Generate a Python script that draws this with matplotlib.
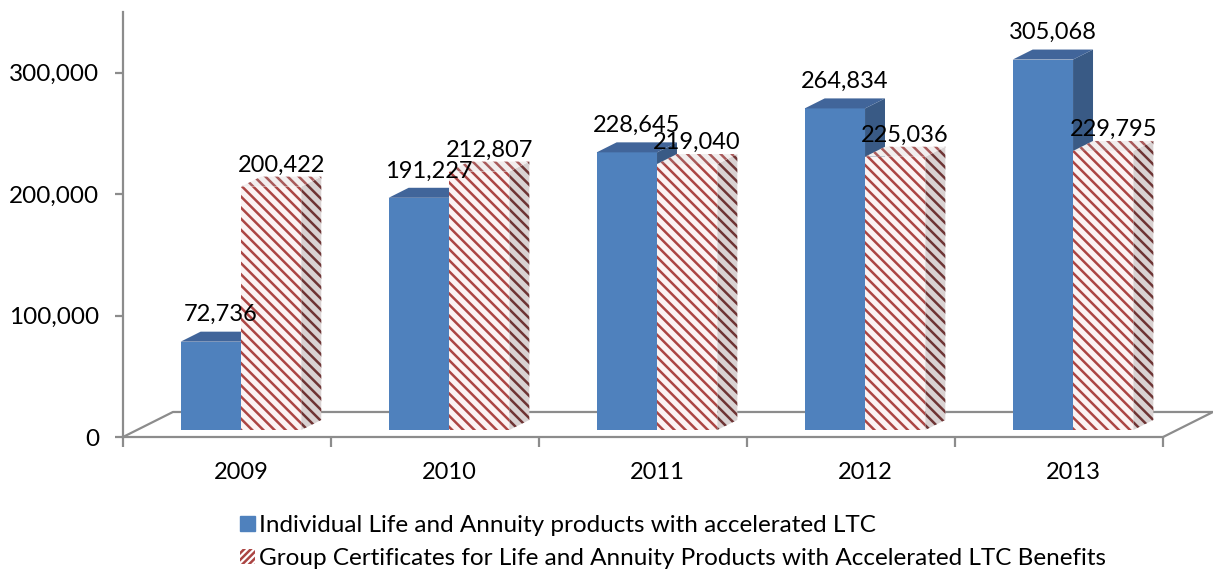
import matplotlib.pyplot as plt
from matplotlib.patches import Polygon, Patch
from matplotlib.ticker import FuncFormatter

years = ["2009", "2010", "2011", "2012", "2013"]
individual = [72736, 191227, 228645, 264834, 305068]
group = [200422, 212807, 219040, 225036, 229795]
names = ["Individual Life and Annuity products with accelerated LTC",
         "Group Certificates for Life and Annuity Products with Accelerated LTC Benefits"]

plt.rcParams['font.family'] = ['Lato', 'DejaVu Sans']
plt.rcParams['hatch.linewidth'] = 1.8

fig = plt.figure(figsize=(12.13, 5.75), dpi=100)
ax = fig.add_axes([123/1213, 138/575, 1090/1213, 425/575])
ax.set_xlim(-0.5, 4.74)
ax.set_ylim(0, 350000)

# fake 3d: floor depth in data units, bars sit between f0 and f1 of it
DX, DY = 0.24, 20600
f0, f1 = 0.28, 0.68
W = 0.29
axis_col = "#8c8c8c"

# floor
ax.plot([-0.5, -0.5 + DX, 4.5 + DX, 4.5], [0, DY, DY, 0], color=axis_col, lw=1.6, zorder=1, clip_on=False)


def box(x0, x1, h, faces):
    bx, by = f0 * DX, f0 * DY
    dx, dy = (f1 - f0) * DX, (f1 - f0) * DY
    x0, x1 = x0 + bx, x1 + bx
    front = [(x0, by), (x1, by), (x1, by + h), (x0, by + h)]
    side = [(x1, by), (x1 + dx, by + dy), (x1 + dx, by + dy + h), (x1, by + h)]
    top = [(x0, by + h), (x1, by + h), (x1 + dx, by + h + dy), (x0 + dx, by + h + dy)]
    for pts, kw in zip([front, side, top], faces):
        ax.add_patch(Polygon(pts, closed=True, linewidth=0, zorder=2, **kw))
    return (x0 + x1) / 2 + dx / 2, by + h + dy


blue_faces = [dict(facecolor="#4f81bd", edgecolor="#4f81bd"),
              dict(facecolor="#395a85", edgecolor="#395a85"),
              dict(facecolor="#41659a", edgecolor="#41659a")]
red_faces = [dict(facecolor="#fbf3f3", edgecolor="#ab4543", hatch="\\\\\\"),
             dict(facecolor="#d9d2d2", edgecolor="#6e3434", hatch="\\\\\\"),
             dict(facecolor="#f2eeee", edgecolor="#a85a5a", hatch="\\\\\\")]

for i in range(len(years)):
    bars = [(i - W, i, individual[i], blue_faces, 7.5), (i, i + W, group[i], red_faces, 3.5)]
    for x0, x1, v, faces, gap in bars:
        lx, ly = box(x0, x1, v, faces)
        ax.annotate(f"{v:,}", (lx, ly), xytext=(0, gap), textcoords="offset points",
                    ha="center", va="baseline", fontsize=17, zorder=3)

for s in ["top", "right"]:
    ax.spines[s].set_visible(False)
for s in ["left", "bottom"]:
    ax.spines[s].set_color(axis_col)
    ax.spines[s].set_linewidth(1.6)
ax.spines["bottom"].set_bounds(-0.5, 4.5)

ax.set_yticks([0, 100000, 200000, 300000])
ax.yaxis.set_major_formatter(FuncFormatter(lambda v, p: f"{v:,.0f}"))
ax.tick_params(axis="y", length=6, width=1.6, color=axis_col, labelsize=17.5, pad=11)
ax.set_xticks([i + f0 * DX for i in range(len(years))], years)
ax.set_xticks([i - 0.5 for i in range(len(years) + 1)], minor=True)
ax.tick_params(axis="x", which="major", length=0, labelsize=17, pad=18)
ax.tick_params(axis="x", which="minor", length=7, width=1.6, color=axis_col)

handles = [Patch(facecolor="#4f81bd", edgecolor="#4f81bd"),
           Patch(facecolor="white", edgecolor="#ab4543", hatch="/////", linewidth=0)]
fig.legend(handles, names, loc="upper left", bbox_to_anchor=(240/1213, 1 - 515/575), frameon=False,
           fontsize=17.5, handlelength=0.6, handleheight=0.6, handletextpad=0.2, labelspacing=0.5,
           borderaxespad=0, borderpad=0)

fig.savefig("out.png", dpi=100)
